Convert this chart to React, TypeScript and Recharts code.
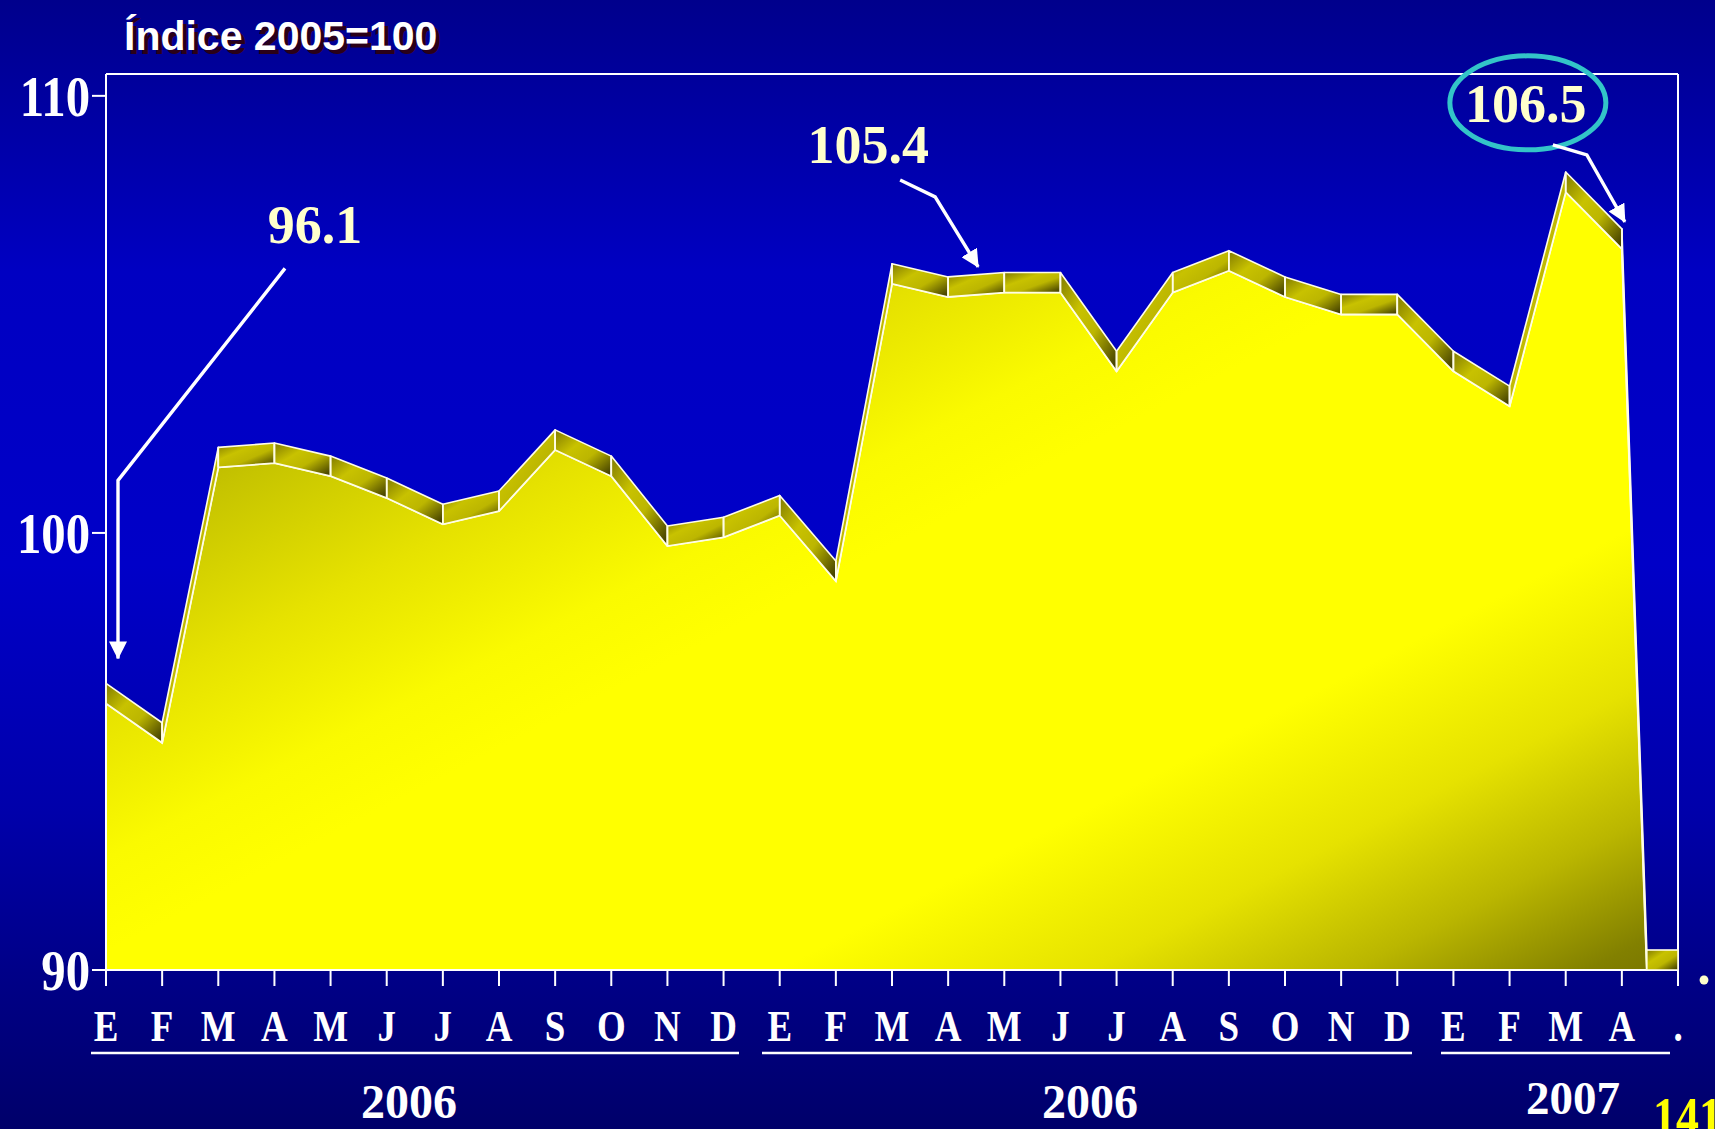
import React from "react";
import { ComposedChart, Area, XAxis, YAxis, ReferenceLine, ReferenceDot } from "recharts";

// month initials along the axis (Spanish), last slot is the "." placeholder
const MONTHS = [
  "E", "F", "M", "A", "M", "J", "J", "A", "S", "O", "N", "D",
  "E", "F", "M", "A", "M", "J", "J", "A", "S", "O", "N", "D",
  "E", "F", "M", "A", ".",
];

// index values (2005 = 100); the last one falls below the axis floor
const INDEX_2005 = [
  96.1, 95.2, 101.5, 101.6, 101.3, 100.8, 100.2, 100.5, 101.9, 101.3, 99.7, 99.9,
  100.4, 98.9, 105.7, 105.4, 105.5, 105.5, 103.7, 105.5, 106.0, 105.4, 105.0, 105.0,
  103.7, 102.9, 107.8, 106.5, 69.4,
];

const Y_TICKS = [90, 100, 110];
const Y_DOMAIN = [90, 110.5];

// highlighted values
const CALLOUT_IDX = [0, 15, 27];
const CALLOUT_VALUES = [96.1, 105.4, 106.5];

const YEARS = ["2006", "2006", "2007"];

const W = 1715;
const H = 1129;
const PLOT = { left: 106, top: 74, right: 1678, bottom: 970 };
const DEPTH = 20;
const SERIF = '"Liberation Serif", "Times New Roman", serif';
const SANS = '"Liberation Sans", Arial, sans-serif';
const CREAM = "#ffffcc";
const EDGE = "#fffde6";

const rows = MONTHS.map((m, i) => ({ idx: i, month: m, value: INDEX_2005[i] }));
const xTicks = MONTHS.map((_, i) => i);

// label / leader geometry for each callout, relative to its data point
const CALLOUT_LAYOUT = [
  { text: [209, -460], path: [[179, -435], [12, -223], [12, -45]], ellipse: null },
  { text: [-80, -134], path: [[-48, -117], [-13, -100], [30, -30]], ellipse: null },
  { text: [-96, -127], path: [[-69, -104], [-35, -94], [3, -27]], ellipse: [-94, -146, 78, 47] },
];

function MonthTick({ x, y, payload }: any) {
  return (
    <text
      transform={`translate(${x},${y + 53}) scale(0.84,1)`}
      textAnchor="middle"
      fill="#ffffff"
      fontFamily={SERIF}
      fontWeight="bold"
      fontSize={44}
    >
      {MONTHS[payload.value]}
    </text>
  );
}

function ValueTick({ x, y, payload }: any) {
  return (
    <text
      transform={`translate(${x},${y + 20}) scale(0.87,1)`}
      textAnchor="end"
      fill="#ffffff"
      fontFamily={SERIF}
      fontWeight="bold"
      fontSize={56}
    >
      {payload.value}
    </text>
  );
}

// draws the 3D "ribbon" on top of each segment of the area
function renderRibbon(props: any) {
  const { cx, cy, index, points } = props;
  const key = `rib-${index}`;
  if (typeof cx !== "number" || typeof cy !== "number") return <g key={key} />;
  const next = points ? points[index + 1] : null;
  let floorCap = null;
  if (next && next.y > PLOT.bottom && cy < PLOT.bottom) {
    const xc = cx + ((next.x - cx) * (PLOT.bottom - cy)) / (next.y - cy);
    floorCap = (
      <rect
        x={xc}
        y={PLOT.bottom - DEPTH}
        width={next.x - xc}
        height={DEPTH}
        fill="url(#ribbonFill)"
        stroke={EDGE}
        strokeWidth={1.6}
      />
    );
  }
  return (
    <g key={key} clipPath="url(#plotClip)">
      {next && (
        <polygon
          points={`${cx},${cy} ${next.x},${next.y} ${next.x},${next.y - DEPTH} ${cx},${cy - DEPTH}`}
          fill="url(#ribbonFill)"
          stroke={EDGE}
          strokeWidth={1.6}
          strokeLinejoin="round"
        />
      )}
      {floorCap}
      <line x1={cx} y1={cy} x2={cx} y2={cy - DEPTH} stroke={EDGE} strokeWidth={1.6} />
    </g>
  );
}

function makeCallout(i: number) {
  const lay = CALLOUT_LAYOUT[i];
  return (props: any) => {
    const { cx, cy } = props;
    const pts = lay.path.map(([dx, dy]) => `${cx + dx},${cy + dy}`).join(" ");
    return (
      <g>
        {lay.ellipse && (
          <ellipse
            cx={cx + lay.ellipse[0]}
            cy={cy + lay.ellipse[1]}
            rx={lay.ellipse[2]}
            ry={lay.ellipse[3]}
            fill="none"
            stroke="#33c4c8"
            strokeWidth={5}
          />
        )}
        <polyline points={pts} fill="none" stroke="#ffffff" strokeWidth={3.4} markerEnd="url(#arrowHead)" />
        <text
          x={cx + lay.text[0]}
          y={cy + lay.text[1]}
          textAnchor="middle"
          fill={CREAM}
          fontFamily={SERIF}
          fontWeight="bold"
          fontSize={54}
        >
          {CALLOUT_VALUES[i].toFixed(1)}
        </text>
      </g>
    );
  };
}

export default function App() {
  return (
    <div
      style={{
        position: "absolute",
        left: 0,
        top: 0,
        width: W,
        height: H,
        overflow: "hidden",
        background:
          "linear-gradient(180deg, #00008c 0%, #0000c2 24%, #0000c8 50%, #0000aa 72%, #000088 86%, #00006a 100%)",
      }}
    >
      <ComposedChart
        width={W}
        height={H}
        data={rows}
        margin={{ top: PLOT.top, right: W - PLOT.right, bottom: 0, left: 0 }}
      >
        <defs>
          <linearGradient
            id="areaFill"
            gradientUnits="userSpaceOnUse"
            x1={207}
            y1={400}
            x2={758}
            y2={1466}
          >
            <stop offset="0" stopColor="#b0ac00" />
            <stop offset="0.07" stopColor="#c6c400" />
            <stop offset="0.19" stopColor="#e6e200" />
            <stop offset="0.3" stopColor="#fafa00" />
            <stop offset="0.37" stopColor="#ffff00" />
            <stop offset="0.64" stopColor="#ffff00" />
            <stop offset="0.76" stopColor="#e6e200" />
            <stop offset="0.86" stopColor="#bab600" />
            <stop offset="0.95" stopColor="#828000" />
            <stop offset="1" stopColor="#747000" />
          </linearGradient>
          <linearGradient id="ribbonFill" x1="0" y1="0" x2="1" y2="1">
            <stop offset="0" stopColor="#807a00" />
            <stop offset="0.35" stopColor="#c8c200" />
            <stop offset="0.6" stopColor="#bcb600" />
            <stop offset="1" stopColor="#363300" />
          </linearGradient>
          <clipPath id="plotClip">
            <rect x={PLOT.left - 2} y={0} width={PLOT.right - PLOT.left + 4} height={PLOT.bottom} />
          </clipPath>
          <marker
            id="arrowHead"
            markerUnits="userSpaceOnUse"
            markerWidth={18}
            markerHeight={18}
            refX={17}
            refY={9}
            orient="auto"
          >
            <path d="M0,0 L18,9 L0,18 z" fill="#ffffff" />
          </marker>
        </defs>
        <XAxis
          dataKey="idx"
          type="number"
          domain={[0, MONTHS.length - 1]}
          ticks={xTicks}
          interval={0}
          height={H - PLOT.bottom}
          tickSize={16}
          tickLine={{ stroke: "#ffffff", strokeWidth: 2 }}
          axisLine={{ stroke: "#ffffff", strokeWidth: 2 }}
          tick={<MonthTick />}
        />
        <YAxis
          type="number"
          domain={Y_DOMAIN}
          ticks={Y_TICKS}
          allowDataOverflow
          width={PLOT.left}
          tickSize={14}
          tickLine={{ stroke: "#ffffff", strokeWidth: 2 }}
          axisLine={{ stroke: "#ffffff", strokeWidth: 2 }}
          tick={<ValueTick />}
        />
        <ReferenceLine y={Y_DOMAIN[1]} stroke="#ffffff" strokeWidth={2} />
        <ReferenceLine x={MONTHS.length - 1} stroke="#ffffff" strokeWidth={2} />
        <Area
          type="linear"
          dataKey="value"
          baseValue={Y_DOMAIN[0]}
          fill="url(#areaFill)"
          fillOpacity={1}
          stroke={EDGE}
          strokeWidth={2}
          dot={renderRibbon}
          activeDot={false}
          isAnimationActive={false}
        />
        {CALLOUT_IDX.map((idx, i) => (
          <ReferenceDot
            key={`note-${i}`}
            x={idx}
            y={CALLOUT_VALUES[i]}
            r={0}
            shape={makeCallout(i)}
          />
        ))}
      </ComposedChart>
      <svg
        width={W}
        height={H}
        style={{ position: "absolute", left: 0, top: 0, pointerEvents: "none" }}
      >
        <text x={128} y={54} fill="#2a0018" fontFamily={SANS} fontWeight="bold" fontSize={41}>
          Índice 2005=100
        </text>
        <text x={124} y={50} fill="#ffffff" fontFamily={SANS} fontWeight="bold" fontSize={41}>
          Índice 2005=100
        </text>
        <line x1={91} y1={1053} x2={739} y2={1053} stroke="#ffffff" strokeWidth={2.5} />
        <line x1={762} y1={1053} x2={1412} y2={1053} stroke="#ffffff" strokeWidth={2.5} />
        <line x1={1441} y1={1053} x2={1670} y2={1053} stroke="#ffffff" strokeWidth={2.5} />
        <text x={409} y={1118} textAnchor="middle" fill="#ffffff" fontFamily={SERIF} fontWeight="bold" fontSize={48}>
          {YEARS[0]}
        </text>
        <text x={1090} y={1118} textAnchor="middle" fill="#ffffff" fontFamily={SERIF} fontWeight="bold" fontSize={48}>
          {YEARS[1]}
        </text>
        <text x={1573} y={1114} textAnchor="middle" fill="#ffffff" fontFamily={SERIF} fontWeight="bold" fontSize={47}>
          {YEARS[2]}
        </text>
        <text
          transform="translate(1653,1135) scale(0.85,1)"
          fill="#ffff00"
          fontFamily={SERIF}
          fontWeight="bold"
          fontSize={54}
        >
          141
        </text>
        <text x={1704} y={984} textAnchor="middle" fill={CREAM} fontFamily={SERIF} fontWeight="bold" fontSize={54}>
          .
        </text>
      </svg>
    </div>
  );
}
